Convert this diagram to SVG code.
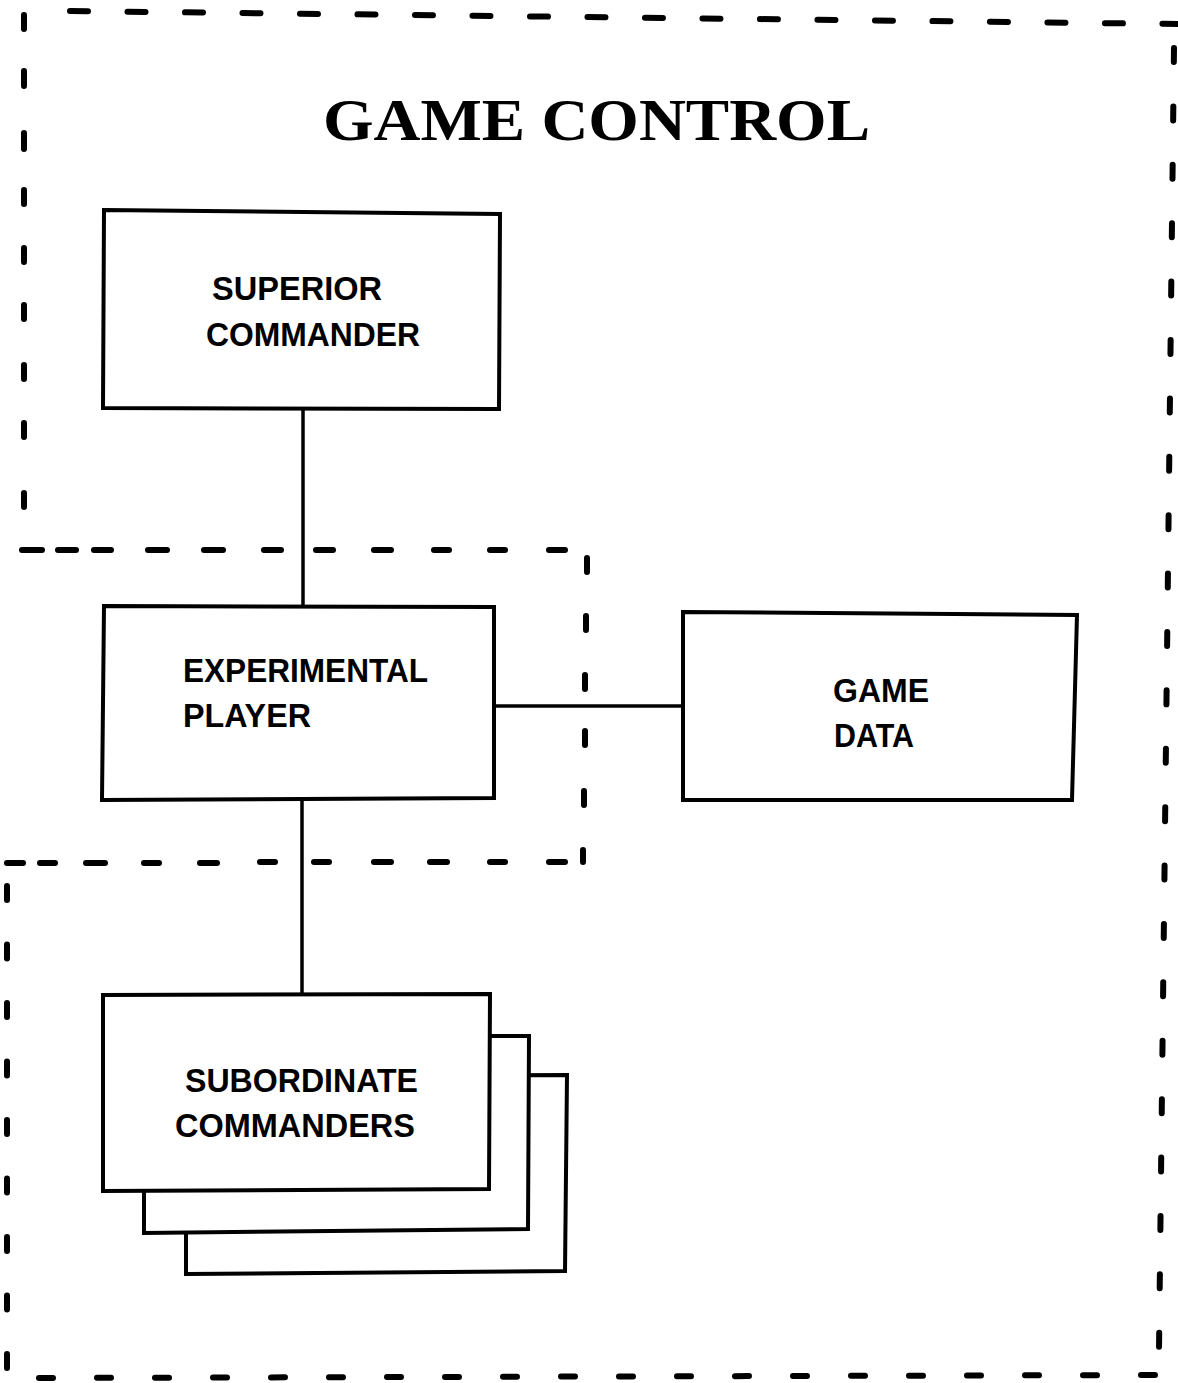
<svg xmlns="http://www.w3.org/2000/svg" width="1178" height="1383" viewBox="0 0 1178 1383">
<style>
.bg{fill:#ffffff}
.dash{fill:none;stroke:#000;stroke-width:6;stroke-linecap:round}
.box{fill:#ffffff;stroke:#000;stroke-width:4;stroke-linejoin:miter}
.conn{fill:none;stroke:#000;stroke-width:3.5}
.lbl{font-family:"Liberation Sans",Arial,sans-serif;font-weight:bold;font-size:34px;fill:#000}
.title{font-family:"Liberation Serif","Times New Roman",serif;font-weight:bold;font-size:60px;fill:#000}
</style>
<rect class="bg" x="0" y="0" width="1178" height="1383"/>
<g id="boundaries">
  <path class="dash" d="M70 11 L1178 24" stroke-dasharray="18 39.5"/>
  <path class="dash" d="M1174 48 L1159 1350" stroke-dasharray="14 44.4"/>
  <path class="dash" d="M39 1378 L1162 1375" stroke-dasharray="14 44"/>
  <path class="dash" d="M7 886 L7 1375" stroke-dasharray="14 44.5"/>
  <path class="dash" d="M24 15v14 M24 71v15 M24 133v16 M24 190v14 M24 248v14 M24 305v14 M24 365v14 M24 423v14 M24 493v14"/>
  <path class="dash" d="M22 550h20 M58 550h18 M94 550h17 M148 550h19 M204 550h19 M264 550h17 M316 550h17 M374 550h17 M434 550h15 M490 550h15 M549 550h16"/>
  <path class="dash" d="M587 558v14 M586 616v14 M585 675v14 M585 731v14 M584 791v14 M583 850v12"/>
  <path class="dash" d="M7 863h16 M40 863h15 M86 863h19 M144 863h15 M200 863h17 M260 862h15 M314 862h15 M374 862h17 M430 862h17 M490 862h15 M549 862h16"/>
</g>
<g id="title">
  <text class="title" x="323" y="140" textLength="547" lengthAdjust="spacingAndGlyphs">GAME CONTROL</text>
</g>
<g id="connectors">
  <path class="conn" d="M303 409 L303 606"/>
  <path class="conn" d="M302 800 L302 995"/>
  <path class="conn" d="M494 706 L683 706"/>
</g>
<g id="superior-commander">
  <polygon class="box" points="104,210 500,214 499,409 103,408"/>
  <text class="lbl" x="212" y="300" textLength="170" lengthAdjust="spacingAndGlyphs">SUPERIOR</text>
  <text class="lbl" x="206" y="346" textLength="214" lengthAdjust="spacingAndGlyphs">COMMANDER</text>
</g>
<g id="experimental-player">
  <polygon class="box" points="104,606 494,607 494,798 102,800"/>
  <text class="lbl" x="183" y="682" textLength="245" lengthAdjust="spacingAndGlyphs">EXPERIMENTAL</text>
  <text class="lbl" x="183" y="727" textLength="128" lengthAdjust="spacingAndGlyphs">PLAYER</text>
</g>
<g id="game-data">
  <polygon class="box" points="683,612 1077,615 1072,800 683,800"/>
  <text class="lbl" x="833" y="702" textLength="96" lengthAdjust="spacingAndGlyphs">GAME</text>
  <text class="lbl" x="834" y="747" textLength="80" lengthAdjust="spacingAndGlyphs">DATA</text>
</g>
<g id="subordinate-commanders">
  <polygon class="box" points="186,1076 567,1075 565,1271 186,1274"/>
  <polygon class="box" points="144,1036 529,1036 528,1229 144,1233"/>
  <polygon class="box" points="103,995 490,994 489,1189 103,1191"/>
  <text class="lbl" x="185" y="1092" textLength="233" lengthAdjust="spacingAndGlyphs">SUBORDINATE</text>
  <text class="lbl" x="175" y="1137" textLength="240" lengthAdjust="spacingAndGlyphs">COMMANDERS</text>
</g>
</svg>
